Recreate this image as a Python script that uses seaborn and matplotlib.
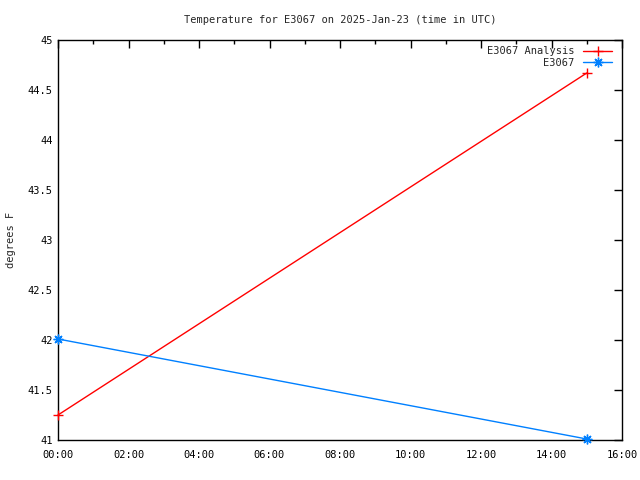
import matplotlib
matplotlib.use("Agg")
import matplotlib.pyplot as plt
import seaborn as sns
import pandas as pd
from matplotlib.ticker import MultipleLocator, FuncFormatter

# values (hours since 00:00 UTC, degrees F)
analysis_hours = [0, 15]
analysis_temp = [41.25, 44.67]
station_hours = [0, 15]
station_temp = [42.01, 41.01]

analysis = pd.DataFrame({"hour": analysis_hours, "temp": analysis_temp})
station = pd.DataFrame({"hour": station_hours, "temp": station_temp})

sns.set_style("white")
plt.rcParams["font.family"] = ["DejaVu Sans Mono", "DejaVu Sans"]
plt.rcParams["font.size"] = 7.5

fig = plt.figure(figsize=(6.4, 4.8), dpi=100)
ax = fig.add_axes([58 / 640, 40 / 480, 564 / 640, 400 / 480])

sns.lineplot(data=analysis, x="hour", y="temp", color="#ff0000", marker="+",
             markersize=7, markeredgewidth=1, markeredgecolor="#ff0000",
             linewidth=1, label="E3067 Analysis", ax=ax, clip_on=False)
sns.lineplot(data=station, x="hour", y="temp", color="#0080ff", marker=(8, 2, 0),
             markersize=7, markeredgewidth=1, markeredgecolor="#0080ff",
             linewidth=1, label="E3067", ax=ax, clip_on=False)

ax.set_xlim(0, 16)
ax.set_ylim(41, 45)
ax.xaxis.set_major_locator(MultipleLocator(2))
ax.xaxis.set_minor_locator(MultipleLocator(1))
ax.xaxis.set_major_formatter(FuncFormatter(lambda v, p: f"{int(v):02d}:00"))
ax.yaxis.set_major_locator(MultipleLocator(0.5))
ax.yaxis.set_major_formatter(FuncFormatter(lambda v, p: f"{v:g}"))
ax.tick_params(which="both", direction="in", top=True, right=True, colors="black")
ax.tick_params(which="major", length=6, width=1, labelsize=7.5, pad=4)
ax.tick_params(axis="x", which="major", pad=7)
ax.tick_params(which="minor", length=3, width=1)
for s in ax.spines.values():
    s.set_color("black")
    s.set_linewidth(1)
    s.set_zorder(1)

ax.set_xlabel("")
ax.set_ylabel("degrees F", fontsize=7.5, labelpad=8)
ax.set_title("Temperature for E3067 on 2025-Jan-23 (time in UTC)", fontsize=7.5, pad=12)

leg = ax.legend(loc="upper right", frameon=False, fontsize=7.5, markerfirst=False,
                handlelength=2.8, borderaxespad=0.0, labelspacing=0.15,
                bbox_to_anchor=(0.99, 0.995))

fig.savefig("out.png", dpi=100)
